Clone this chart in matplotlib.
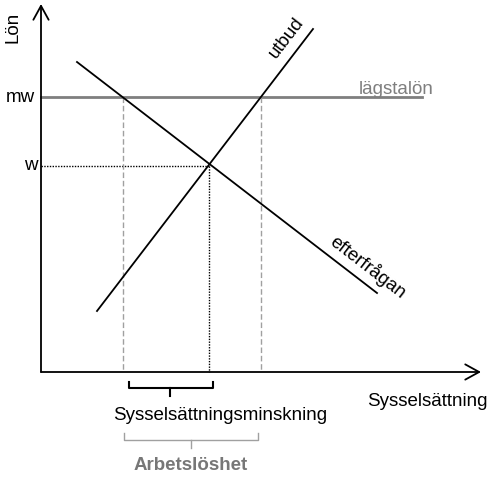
import matplotlib
matplotlib.use("Agg")
import matplotlib.pyplot as plt
from matplotlib import rcParams

rcParams['font.family'] = ['Liberation Sans', 'DejaVu Sans']

# diagram in pixel-like units (y grows downward)
demand_x = [77, 377]
demand_y = [62, 293]
supply_x = [97, 313]
supply_y = [311, 29]
mw = 97
w = 166
q_eq = 209
q_demand = 123
q_supply = 261
x_axis_y = 372
y_axis_x = 41

FS = 13.5


def main():
    fig = plt.figure(figsize=(4.89, 4.83), dpi=100)
    ax = fig.add_axes([0, 0, 1, 1])
    ax.set_xlim(0, 489)
    ax.set_ylim(483, 0)
    ax.axis("off")

    # axes with open arrow heads
    arrow = dict(arrowstyle="->,head_length=1.0,head_width=0.55", lw=1.3, color="black",
                 shrinkA=0, shrinkB=0)
    ax.annotate("", xy=(y_axis_x, 4), xytext=(y_axis_x, x_axis_y), arrowprops=arrow)
    ax.annotate("", xy=(481, x_axis_y), xytext=(y_axis_x, x_axis_y), arrowprops=arrow)

    # minimum wage line
    ax.plot([y_axis_x, 422], [mw, mw], color="#7f7f7f", lw=2)
    ax.text(359, 89, "lägstalön", color="#7f7f7f", fontsize=FS, ha="left", va="center")

    # equilibrium wage
    ax.plot([y_axis_x, q_eq], [w, w], color="black", lw=1, ls=(0, (1, 1)))
    ax.plot([q_eq, q_eq], [w, x_axis_y], color="black", lw=1, ls=(0, (1, 1)))

    # dashed verticals at minimum wage
    for q in (q_demand, q_supply):
        ax.plot([q, q], [mw, x_axis_y], color="#a0a0a0", lw=1, ls=(0, (4, 2)))

    # curves
    ax.plot(demand_x, demand_y, color="black", lw=1.3)
    ax.plot(supply_x, supply_y, color="black", lw=1.3)
    ax.text(286, 38, "utbud", fontsize=FS, rotation=52.5, ha="center", va="center",
            rotation_mode="anchor")
    ax.text(368, 267, "efterfrågan", fontsize=FS, rotation=-37.6, ha="center", va="center",
            rotation_mode="anchor")

    # axis labels
    ax.text(13, 27, "Lön", fontsize=FS, rotation=90, ha="center", va="center")
    ax.text(20, mw, "mw", fontsize=FS, ha="center", va="center")
    ax.text(31, w, "w", fontsize=FS, ha="center", va="center")
    ax.text(427, 401, "Sysselsättning", fontsize=FS, ha="center", va="center")

    # brackets
    ax.plot([129, 129, 213, 213], [382, 388, 388, 382], color="black", lw=1.5)
    ax.plot([170, 170], [388, 396], color="black", lw=1.5)
    ax.text(220, 416, "Sysselsättningsminskning", fontsize=FS, ha="center", va="center")

    ax.plot([124, 124, 258, 258], [433, 440, 440, 433], color="#a0a0a0", lw=1)
    ax.plot([191, 191], [440, 448], color="#a0a0a0", lw=1)
    ax.text(191, 465, "Arbetslöshet", fontsize=FS, fontweight="bold", color="#777777",
            ha="center", va="center")

    fig.savefig("out.png", dpi=100)


if __name__ == "__main__":
    main()
